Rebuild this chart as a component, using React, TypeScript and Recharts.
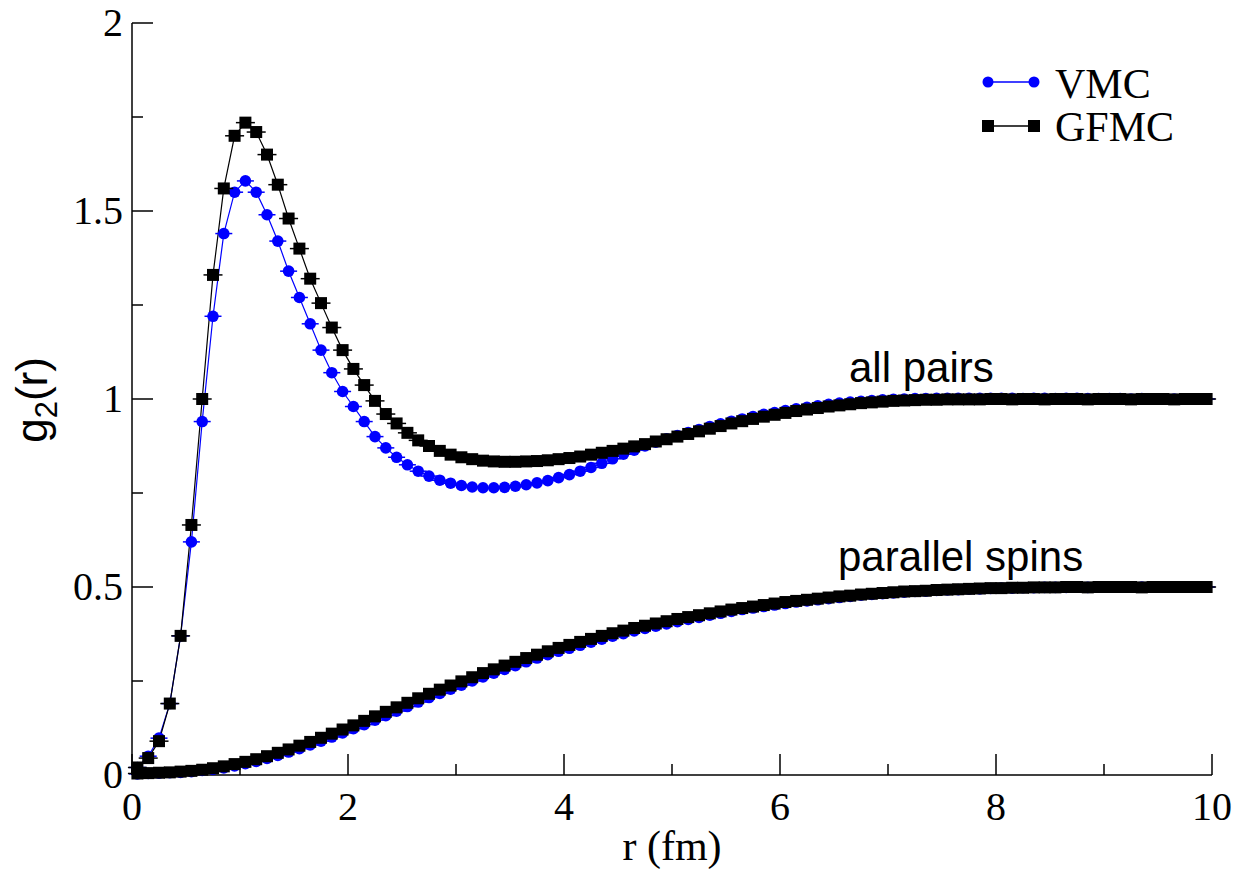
import React from 'react';
import { ComposedChart, Line, XAxis, YAxis } from 'recharts';

// r (fm) sample points
const rValues = [
  0.05, 0.15, 0.25, 0.35, 0.45, 0.55, 0.65, 0.75, 0.85, 0.95,
  1.05, 1.15, 1.25, 1.35, 1.45, 1.55, 1.65, 1.75, 1.85, 1.95,
  2.05, 2.15, 2.25, 2.35, 2.45, 2.55, 2.65, 2.75, 2.85, 2.95,
  3.05, 3.15, 3.25, 3.35, 3.45, 3.55, 3.65, 3.75, 3.85, 3.95,
  4.05, 4.15, 4.25, 4.35, 4.45, 4.55, 4.65, 4.75, 4.85, 4.95,
  5.05, 5.15, 5.25, 5.35, 5.45, 5.55, 5.65, 5.75, 5.85, 5.95,
  6.05, 6.15, 6.25, 6.35, 6.45, 6.55, 6.65, 6.75, 6.85, 6.95,
  7.05, 7.15, 7.25, 7.35, 7.45, 7.55, 7.65, 7.75, 7.85, 7.95,
  8.05, 8.15, 8.25, 8.35, 8.45, 8.55, 8.65, 8.75, 8.85, 8.95,
  9.05, 9.15, 9.25, 9.35, 9.45, 9.55, 9.65, 9.75, 9.85, 9.95,
];

// all pairs, VMC
const vmcAll = [
  0.02, 0.05, 0.098, 0.19, 0.37, 0.62, 0.94, 1.22, 1.44, 1.55,
  1.58, 1.55, 1.49, 1.42, 1.34, 1.27, 1.2, 1.13, 1.07, 1.02,
  0.98, 0.94, 0.9, 0.87, 0.845, 0.825, 0.808, 0.795, 0.784, 0.776,
  0.77, 0.766, 0.764, 0.764, 0.765, 0.768, 0.772, 0.777, 0.783, 0.791,
  0.799, 0.808, 0.818, 0.829, 0.841, 0.853, 0.864, 0.875, 0.885, 0.894,
  0.903, 0.911, 0.919, 0.927, 0.934, 0.941, 0.947, 0.953, 0.959, 0.964,
  0.969, 0.974, 0.978, 0.982, 0.986, 0.989, 0.992, 0.994, 0.996, 0.998,
  0.999, 1.0, 1.001, 1.001, 1.002, 1.002, 1.002, 1.002, 1.002, 1.002,
  1.002, 1.002, 1.001, 1.002, 1.002, 1.001, 1.002, 1.002, 1.001, 1.001,
  1.001, 1.001, 1.0, 1.001, 1.0, 1.0, 1.0, 1.0, 1.0, 1.0,
];

// all pairs, GFMC
const gfmcAll = [
  0.02, 0.045, 0.09, 0.19, 0.37, 0.665, 1.0, 1.33, 1.56, 1.7,
  1.735, 1.71, 1.65, 1.57, 1.48, 1.4, 1.32, 1.255, 1.19, 1.13,
  1.08, 1.037, 0.995, 0.96, 0.935, 0.91, 0.89, 0.875, 0.862, 0.852,
  0.845, 0.84, 0.836, 0.834, 0.833, 0.833, 0.834, 0.835, 0.837, 0.84,
  0.843, 0.847, 0.852, 0.857, 0.862, 0.868, 0.874, 0.88, 0.887, 0.893,
  0.9, 0.907, 0.914, 0.921, 0.928, 0.935, 0.941, 0.947, 0.953, 0.958,
  0.963, 0.968, 0.972, 0.976, 0.98, 0.983, 0.986, 0.989, 0.991, 0.993,
  0.995, 0.996, 0.997, 0.998, 0.998, 0.999, 0.999, 0.999, 0.999, 1.0,
  1.0, 0.999, 1.0, 1.0, 0.999, 1.0, 1.0, 1.0, 0.999, 1.0,
  1.0, 1.0, 0.999, 1.0, 1.0, 1.0, 0.999, 1.0, 1.0, 1.0,
];

// parallel spins, VMC
const vmcPar = [
  0.003, 0.004, 0.005, 0.006, 0.007, 0.009, 0.012, 0.015, 0.019, 0.024,
  0.03, 0.036, 0.044, 0.052, 0.061, 0.07, 0.08, 0.09, 0.101, 0.112,
  0.123, 0.134, 0.146, 0.158, 0.17, 0.182, 0.194, 0.206, 0.217, 0.228,
  0.239, 0.25, 0.261, 0.271, 0.281, 0.291, 0.301, 0.311, 0.32, 0.329,
  0.337, 0.345, 0.353, 0.361, 0.369, 0.376, 0.383, 0.39, 0.396, 0.402,
  0.408, 0.414, 0.419, 0.425, 0.43, 0.435, 0.44, 0.444, 0.448, 0.452,
  0.456, 0.46, 0.463, 0.466, 0.469, 0.472, 0.475, 0.478, 0.48, 0.482,
  0.484, 0.486, 0.488, 0.489, 0.491, 0.492, 0.493, 0.494, 0.495, 0.496,
  0.497, 0.497, 0.498, 0.498, 0.499, 0.499, 0.499, 0.5, 0.499, 0.5,
  0.5, 0.5, 0.5, 0.5, 0.5, 0.5, 0.5, 0.5, 0.5, 0.5,
];

// parallel spins, GFMC
const gfmcPar = [
  0.004, 0.005, 0.006, 0.007, 0.009, 0.011, 0.014, 0.018, 0.023, 0.029,
  0.035, 0.042, 0.05, 0.059, 0.068, 0.078, 0.088, 0.099, 0.11, 0.121,
  0.132, 0.144, 0.156, 0.168, 0.18, 0.192, 0.204, 0.216, 0.227, 0.238,
  0.249, 0.26, 0.271, 0.281, 0.291, 0.301, 0.311, 0.32, 0.329, 0.338,
  0.346, 0.354, 0.362, 0.37, 0.377, 0.384, 0.391, 0.397, 0.403, 0.409,
  0.415, 0.42, 0.425, 0.43, 0.435, 0.44, 0.444, 0.448, 0.452, 0.456,
  0.46, 0.463, 0.466, 0.469, 0.472, 0.475, 0.477, 0.48, 0.482, 0.484,
  0.486, 0.488, 0.489, 0.49, 0.492, 0.493, 0.494, 0.495, 0.496, 0.497,
  0.497, 0.498, 0.498, 0.499, 0.499, 0.499, 0.5, 0.5, 0.499, 0.5,
  0.5, 0.5, 0.5, 0.499, 0.5, 0.5, 0.5, 0.5, 0.5, 0.5,
];

const xTicks = [0, 1, 2, 3, 4, 5, 6, 7, 8, 9, 10];
const yTicks = [0, 0.25, 0.5, 0.75, 1, 1.25, 1.5, 1.75, 2];
const yTickLabels: Record<string, string> = { '0': '0', '0.5': '0.5', '1': '1', '1.5': '1.5', '2': '2' };

const data = rValues.map((r, i) => ({
  r,
  vmcAll: vmcAll[i],
  gfmcAll: gfmcAll[i],
  vmcPar: vmcPar[i],
  gfmcPar: gfmcPar[i],
}));

const BLUE = '#0000ff';
const BLACK = '#000000';
const SERIF = '"Liberation Serif", "Times New Roman", serif';
const SANS = '"Liberation Sans", Arial, sans-serif';
const MAJOR = 21;
const MINOR = 11;

const isMajorX = (v: number) => Math.round(v) % 2 === 0;
const isMajorY = (v: number) => Math.abs(v * 2 - Math.round(v * 2)) < 1e-6;

const BottomTick = (props: any) => {
  const { x, y, payload } = props;
  const v = payload.value;
  const major = isMajorX(v);
  return (
    <g>
      <line x1={x} x2={x} y1={y} y2={y - (major ? MAJOR : MINOR)} stroke={BLACK} strokeWidth={1.5} />
      {major && (
        <text x={x} y={y + 45} textAnchor="middle" fontFamily={SERIF} fontSize={40} fill={BLACK}>
          {v}
        </text>
      )}
    </g>
  );
};

const TopTick = (props: any) => {
  const { x, y, payload } = props;
  const major = isMajorX(payload.value);
  return <line x1={x} x2={x} y1={y} y2={y + (major ? MAJOR : MINOR)} stroke={BLACK} strokeWidth={1.5} />;
};

const LeftTick = (props: any) => {
  const { x, y, payload } = props;
  const v = payload.value;
  const major = isMajorY(v);
  return (
    <g>
      <line x1={x} x2={x + (major ? MAJOR : MINOR)} y1={y} y2={y} stroke={BLACK} strokeWidth={1.5} />
      {major && (
        <text x={x - 9} y={y + 13} textAnchor="end" fontFamily={SERIF} fontSize={40} fill={BLACK}>
          {yTickLabels[String(v)]}
        </text>
      )}
    </g>
  );
};

const RightTick = (props: any) => {
  const { x, y, payload } = props;
  const major = isMajorY(payload.value);
  return <line x1={x} x2={x - (major ? MAJOR : MINOR)} y1={y} y2={y} stroke={BLACK} strokeWidth={1.5} />;
};

const circleDot = (props: any) => {
  const { cx, cy, index } = props;
  if (cx == null || cy == null) return <g key={`c${index}`} />;
  return (
    <g key={`c${index}`}>
      <line x1={cx - 8.5} x2={cx + 8.5} y1={cy} y2={cy} stroke={BLUE} strokeWidth={1.5} />
      <circle cx={cx} cy={cy} r={5.8} fill={BLUE} />
    </g>
  );
};

const squareDot = (props: any) => {
  const { cx, cy, index } = props;
  if (cx == null || cy == null) return <g key={`s${index}`} />;
  return (
    <g key={`s${index}`}>
      <line x1={cx - 9.5} x2={cx + 9.5} y1={cy} y2={cy} stroke={BLACK} strokeWidth={1.5} />
      <rect x={cx - 6} y={cy - 6} width={12} height={12} fill={BLACK} />
    </g>
  );
};

export default function App() {
  const axisLine = { stroke: BLACK, strokeWidth: 1.5 };
  return (
    <div style={{ position: 'absolute', left: 0, top: 0, width: 1235, height: 870, background: '#fff' }}>
      <ComposedChart
        width={1235}
        height={870}
        data={data}
        margin={{ top: 23, right: 23, bottom: 35, left: 32 }}
      >
        <XAxis
          xAxisId="b"
          dataKey="r"
          type="number"
          domain={[0, 10]}
          ticks={xTicks}
          interval={0}
          height={60}
          tickSize={0}
          tickMargin={0}
          tickLine={false}
          axisLine={axisLine}
          tick={<BottomTick />}
        />
        <XAxis
          xAxisId="t"
          orientation="top"
          dataKey="r"
          type="number"
          domain={[0, 10]}
          ticks={xTicks}
          interval={0}
          height={0}
          tickSize={0}
          tickMargin={0}
          tickLine={false}
          axisLine={axisLine}
          tick={<TopTick />}
        />
        <YAxis
          yAxisId="l"
          type="number"
          domain={[0, 2]}
          ticks={yTicks}
          interval={0}
          width={100}
          tickSize={0}
          tickMargin={0}
          tickLine={false}
          axisLine={axisLine}
          tick={<LeftTick />}
        />
        <YAxis
          yAxisId="r"
          orientation="right"
          type="number"
          domain={[0, 2]}
          ticks={yTicks}
          interval={0}
          width={0}
          tickSize={0}
          tickMargin={0}
          tickLine={false}
          axisLine={axisLine}
          tick={<RightTick />}
        />
        <Line xAxisId="b" yAxisId="l" dataKey="vmcPar" stroke={BLUE} strokeWidth={1.2} dot={circleDot} activeDot={false} isAnimationActive={false} />
        <Line xAxisId="b" yAxisId="l" dataKey="vmcAll" stroke={BLUE} strokeWidth={1.2} dot={circleDot} activeDot={false} isAnimationActive={false} />
        <Line xAxisId="b" yAxisId="l" dataKey="gfmcPar" stroke={BLACK} strokeWidth={1.2} dot={squareDot} activeDot={false} isAnimationActive={false} />
        <Line xAxisId="b" yAxisId="l" dataKey="gfmcAll" stroke={BLACK} strokeWidth={1.2} dot={squareDot} activeDot={false} isAnimationActive={false} />
      </ComposedChart>
      <svg width={1235} height={870} style={{ position: 'absolute', left: 0, top: 0, pointerEvents: 'none' }}>
        {/* legend */}
        <line x1={988} x2={1034} y1={82} y2={82} stroke={BLUE} strokeWidth={1.5} />
        <circle cx={988} cy={82} r={5.5} fill={BLUE} />
        <circle cx={1034} cy={82} r={5.5} fill={BLUE} />
        <text x={1055} y={98} fontFamily={SERIF} fontSize={42} fill={BLACK}>VMC</text>
        <line x1={988} x2={1034} y1={126} y2={126} stroke={BLACK} strokeWidth={1.5} />
        <rect x={982} y={120} width={12} height={12} fill={BLACK} />
        <rect x={1028} y={120} width={12} height={12} fill={BLACK} />
        <text x={1055} y={141} fontFamily={SERIF} fontSize={42} fill={BLACK}>GFMC</text>
        {/* annotations */}
        <text x={849} y={382} fontFamily={SANS} fontSize={42} fill={BLACK}>all pairs</text>
        <text x={838} y={571} fontFamily={SANS} fontSize={42} fill={BLACK}>parallel spins</text>
        {/* axis titles */}
        <text x={672} y={860} textAnchor="middle" fontFamily={SERIF} fontSize={42} fill={BLACK}>r (fm)</text>
        <text transform="translate(47,400) rotate(-90)" textAnchor="middle" fontFamily={SANS} fontSize={44} fill={BLACK}>
          g<tspan fontSize={31} dy={10}>2</tspan><tspan dy={-10}>(r)</tspan>
        </text>
      </svg>
    </div>
  );
}
